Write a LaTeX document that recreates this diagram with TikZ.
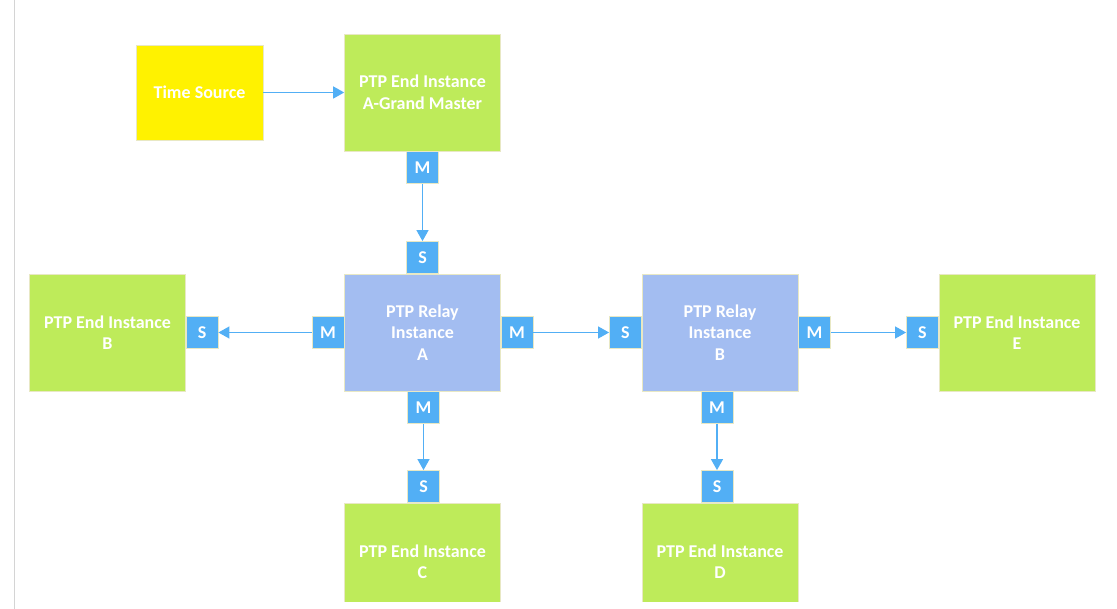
\documentclass[tikz,border=0pt]{standalone}
\usepackage{fontspec}
\setmainfont{Carlito}
\usetikzlibrary{positioning,arrows.meta}
\definecolor{endgreen}{RGB}{190,235,90}
\definecolor{relayblue}{RGB}{163,189,241}
\definecolor{portblue}{RGB}{82,175,245}
\definecolor{srcyellow}{RGB}{255,242,0}
\definecolor{boxline}{RGB}{232,232,196}
\definecolor{edgegray}{RGB}{212,212,212}
\tikzset{
  box/.style={draw=boxline, line width=0.6pt, minimum width=156pt, minimum height=117pt,
    inner sep=0pt, align=center, text=white, font=\fontsize{18}{21.5}\selectfont\bfseries},
  endbox/.style={box, fill=endgreen},
  relaybox/.style={box, fill=relayblue},
  srcbox/.style={box, fill=srcyellow, minimum width=127pt, minimum height=95pt},
  port/.style={draw=boxline, line width=0.6pt, fill=portblue, minimum size=32pt,
    inner sep=0pt, text=white, font=\fontsize{18}{18}\selectfont\bfseries},
  link/.style={draw=portblue, line width=1.3pt, -{Triangle[length=11pt,width=12pt]}}
}
\begin{document}
\begin{tikzpicture}[x=1pt,y=-1pt]
\useasboundingbox (0,0) rectangle (1117,609);
\draw[edgegray, line width=1.2pt] (14.5,0) -- (14.5,609);
\begin{scope}
\clip (0,0) rectangle (1117,601);
% top row
\node[srcbox] (time) at (199.5,92.5) {Time Source};
\node[endbox] (gm) at (422.5,92.5) {PTP End Instance\\A-Grand Master};
% middle row
\node[endbox] (endB) at (107.5,332.5) {PTP End Instance\\B};
\node[relaybox] (relA) at (422.5,332.5) {PTP Relay\\Instance\\A};
\node[relaybox] (relB) at (720,332.5) {PTP Relay\\Instance\\B};
\node[endbox] (endE) at (1017,332.5) {PTP End Instance\\E};
% bottom row
\node[endbox] (endC) at (422.5,561.5) {PTP End Instance\\C};
\node[endbox] (endD) at (720,561.5) {PTP End Instance\\D};
% ports
\node[port, below=0pt of gm] (gmM) {M};
\node[port, above=0pt of relA] (aS) {S};
\node[port, left=0pt of relA] (aW) {M};
\node[port, right=0pt of relA] (aE) {M};
\node[port, below=0pt of relA, xshift=1pt] (aSo) {M};
\node[port, right=0pt of endB] (bS) {S};
\node[port, left=0pt of relB] (bW) {S};
\node[port, right=0pt of relB] (bE) {M};
\node[port, below=0pt of relB, xshift=-3pt] (bSo) {M};
\node[port, left=0pt of endE] (eS) {S};
\node[port, above=0pt of endC, xshift=1pt] (cS) {S};
\node[port, above=0pt of endD, xshift=-3pt] (dS) {S};
\end{scope}
% links
\draw[link] (time) -- (gm);
\draw[link] (gmM) -- (aS);
\draw[link] (aW) -- (bS);
\draw[link] (aE) -- (bW);
\draw[link] (bE) -- (eS);
\draw[link] (aSo) -- (cS);
\draw[link] (bSo) -- (dS);
\end{tikzpicture}
\end{document}
